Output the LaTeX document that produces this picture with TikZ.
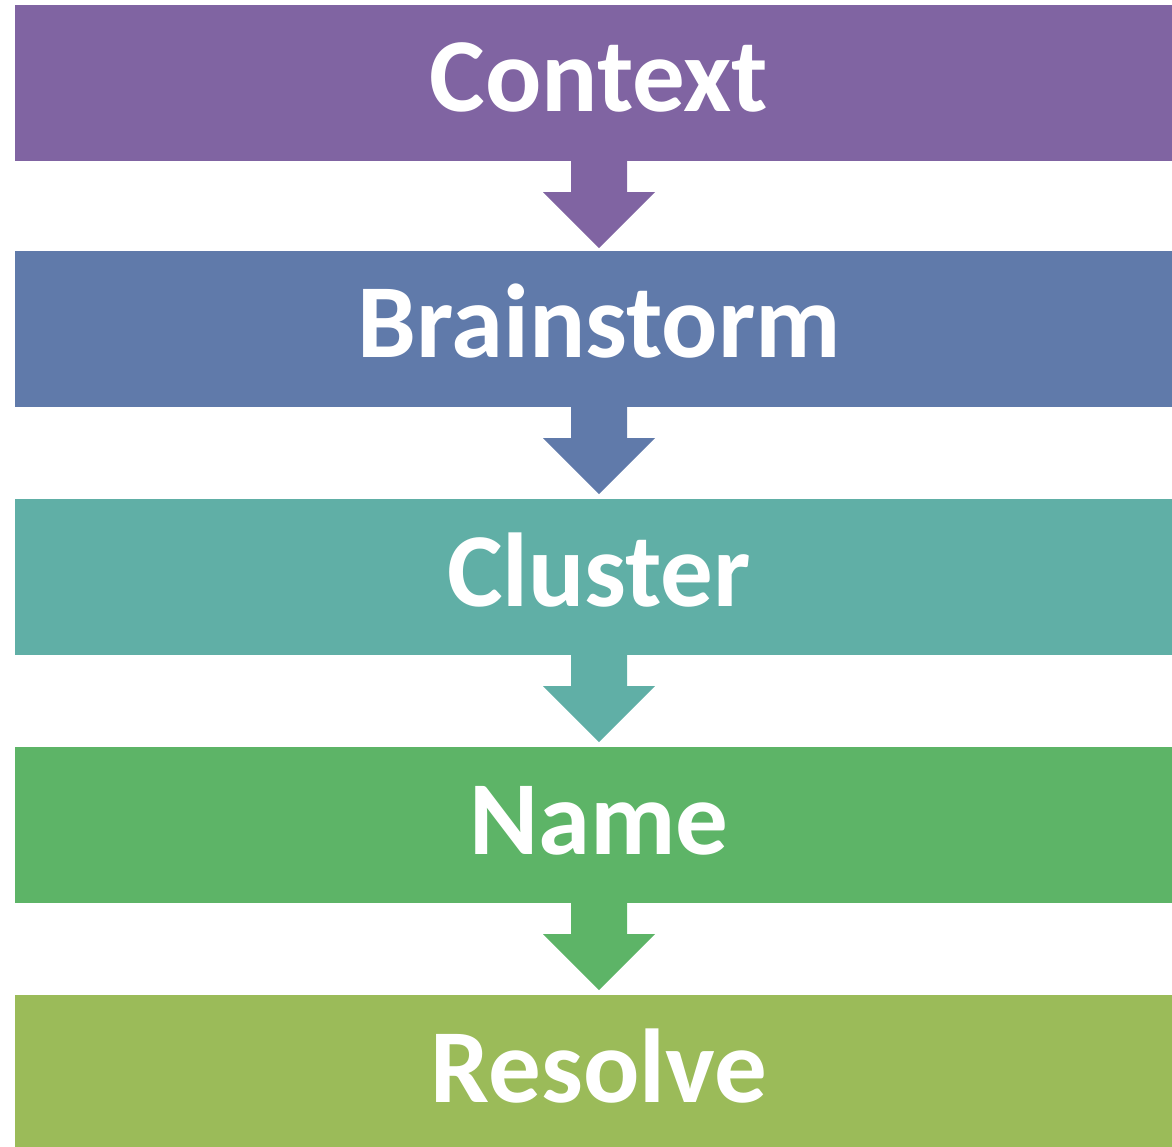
\documentclass[tikz,border=0pt]{standalone}
\usepackage{fontspec}
\setmainfont{Carlito}
\usetikzlibrary{calc}
\definecolor{cA}{HTML}{8064A2}
\definecolor{cB}{HTML}{607AAA}
\definecolor{cC}{HTML}{60AFA6}
\definecolor{cD}{HTML}{5DB467}
\definecolor{cE}{HTML}{9BBB59}
\begin{document}
\begin{tikzpicture}[x=1pt,y=1pt,
  stepbox/.style={rectangle,inner sep=0pt,minimum width=1168pt,minimum height=156pt,fill=#1,draw=none},
  steptext/.style={anchor=base,inner sep=0pt,text=white,font=\bfseries\fontsize{105}{125}\selectfont},
  ]
\useasboundingbox (0,0) rectangle (1172,-1147);
\begin{scope}
\clip (0,0) rectangle (1172,-1147);
\node[stepbox=cA] (b1) at (599,-83) {};
\node[stepbox=cB] (b2) at (599,-329) {};
\node[stepbox=cC] (b3) at (599,-577) {};
\node[stepbox=cD] (b4) at (599,-825) {};
\node[stepbox=cE] (b5) at (599,-1073) {};
\foreach \a/\c in {b1/cA,b2/cB,b3/cC,b4/cD}{
  \fill[\c] ($(\a.south)+(-28,1)$) -- ++(0,-32) -- ++(-28,0) -- ($(\a.south)+(0,-87)$)
    -- ($(\a.south)+(56,-31)$) -- ++(-28,0) -- ++(0,32) -- cycle;
}
\node[steptext] (t1) at (599,-112) {Context};
\node[steptext] (t2) at (599,-358) {Brainstorm};
\node[steptext] (t3) at (599,-606) {Cluster};
\node[steptext] (t4) at (599,-854) {Name};
\node[steptext] (t5) at (599,-1102) {Resolve};
\end{scope}
\end{tikzpicture}
\end{document}
